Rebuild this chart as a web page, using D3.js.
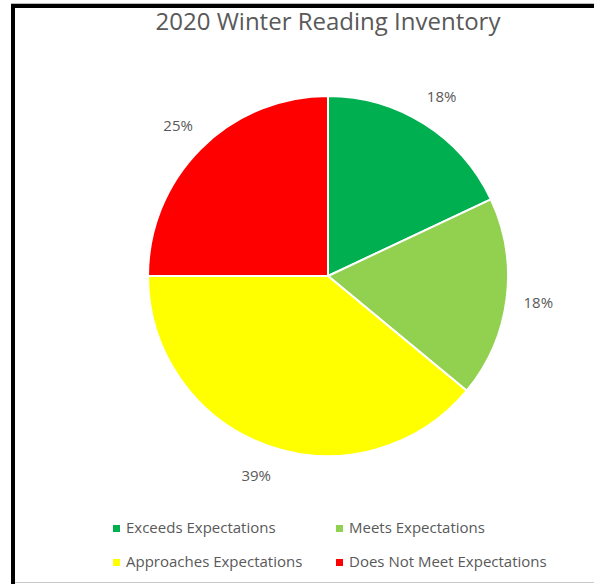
<!DOCTYPE html>
<html>
<head>
<meta charset="utf-8">
<script src="https://cdn.jsdelivr.net/npm/d3@7"></script>
<style>
  body { margin: 0; background: #fff; }
  text { font-family: "Open Sans", sans-serif; fill: #595959; }
</style>
</head>
<body>
<div id="chart"></div>
<script>
// chart data
const categories = ["Exceeds Expectations", "Meets Expectations", "Approaches Expectations", "Does Not Meet Expectations"];
const values = [18, 18, 39, 25];
const colors = ["#00B050", "#92D050", "#FFFF00", "#FF0000"];
const title = "2020 Winter Reading Inventory";

let width = 594, height = 584;
let cx = 328, cy = 276, radius = 180, labelRadius = 212;

const svg = d3.select("#chart")
        .append("svg")
        .attr("width", width)
        .attr("height", height);

// frame lines like the cropped screenshot
svg.append("line").attr("x1", 11).attr("x2", width).attr("y1", 3.5).attr("y2", 3.5)
    .attr("stroke", "#bbb").attr("stroke-width", 1);
svg.append("line").attr("x1", 11).attr("x2", width).attr("y1", 6).attr("y2", 6)
    .attr("stroke", "#000").attr("stroke-width", 4);
svg.append("line").attr("x1", 13).attr("x2", 13).attr("y1", 4).attr("y2", height)
    .attr("stroke", "#000").attr("stroke-width", 4);
svg.append("line").attr("x1", 15).attr("x2", width).attr("y1", 582.5).attr("y2", 582.5)
    .attr("stroke", "#c8c8c8").attr("stroke-width", 1);

// title
svg.append("text")
    .attr("x", cx)
    .attr("y", 30)
    .attr("text-anchor", "middle")
    .attr("font-size", 24)
    .text(title);

const pie = d3.pie().sort(null).value(d => d);
const arc = d3.arc().innerRadius(0).outerRadius(radius);
const labelArc = d3.arc().innerRadius(labelRadius).outerRadius(labelRadius);

const g = svg.append("g").attr("transform", "translate(" + cx + "," + cy + ")");

const slices = pie(values);

g.selectAll(".slice")
    .data(slices)
    .enter()
        .append("path")
        .attr("class", "slice")
        .attr("d", arc)
        .attr("fill", (d, i) => colors[i])
        .attr("stroke", "#fff")
        .attr("stroke-width", 2);

const total = d3.sum(values);
g.selectAll(".label")
    .data(slices)
    .enter()
        .append("text")
        .attr("class", "label")
        .attr("transform", d => "translate(" + labelArc.centroid(d) + ")")
        .attr("text-anchor", "middle")
        .attr("dy", "0.35em")
        .attr("font-size", 15)
        .text(d => Math.round(d.value / total * 100) + "%");

// legend, two columns
const legendX = [113, 336], legendY = [528, 562];
const legend = svg.selectAll(".legend")
    .data(categories)
    .enter()
        .append("g")
        .attr("class", "legend")
        .attr("transform", (d, i) => "translate(" + legendX[i % 2] + "," + legendY[Math.floor(i / 2)] + ")");

legend.append("rect")
    .attr("x", 0).attr("y", -3)
    .attr("width", 7).attr("height", 7)
    .attr("fill", (d, i) => colors[i]);

legend.append("text")
    .attr("x", 13)
    .attr("dy", "0.35em")
    .attr("font-size", 15)
    .text(d => d);
</script>
</body>
</html>
